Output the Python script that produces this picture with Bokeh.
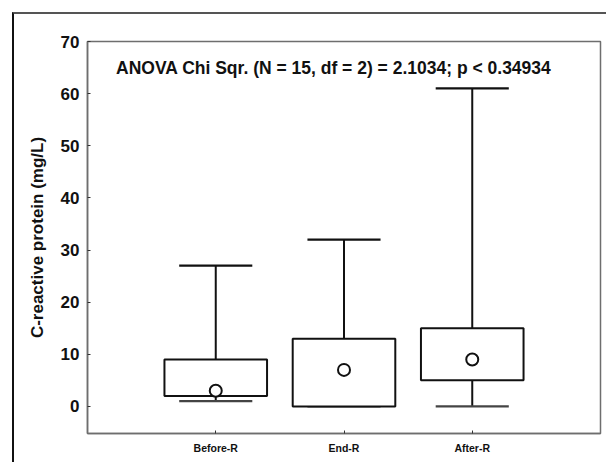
from bokeh.plotting import figure
from bokeh.models import FixedTicker, Label, Range1d
from bokeh.embed import file_html
from bokeh.resources import INLINE

categories = ["Before-R", "End-R", "After-R"]
positions = [1, 2, 3]
medians = [3, 7, 9]
q1 = [2, 0, 5]
q3 = [9, 13, 15]
whisker_low = [1, 0, 0]
whisker_high = [27, 32, 61]
y_ticks = [0, 10, 20, 30, 40, 50, 60, 70]
annotation = "ANOVA Chi Sqr. (N = 15, df = 2) = 2.1034; p < 0.34934"

FONT = "Liberation Sans"
AXIS_GRAY = "#6e6e6e"

p = figure(width=594, height=450, output_backend="svg", toolbar_location=None,
           x_range=Range1d(0, 4), y_range=Range1d(-5.2, 70),
           min_border_left=73, min_border_top=27, min_border_bottom=31, min_border_right=8)
p.margin = (12, 0, 0, 12)
p.styles = {"border-left": "2px solid #111", "border-top": "2px solid #555"}

p.xgrid.visible = False
p.ygrid.visible = False
p.outline_line_color = AXIS_GRAY
p.outline_line_width = 1.5

# axes
p.yaxis.ticker = FixedTicker(ticks=y_ticks)
p.xaxis.ticker = FixedTicker(ticks=positions)
p.xaxis.major_label_overrides = {pos: c for pos, c in zip(positions, categories)}
for ax in (p.xaxis[0], p.yaxis[0]):
    ax.axis_line_color = AXIS_GRAY
    ax.axis_line_width = 1.5
    ax.major_tick_line_color = "#333"
    ax.major_tick_in = 3
    ax.major_tick_out = 0
    ax.minor_tick_line_color = None
    ax.major_label_text_font = FONT
    ax.major_label_text_font_style = "bold"
    ax.major_label_text_color = "#111"
p.yaxis.major_label_text_font_size = "17px"
p.yaxis.major_label_standoff = 8
p.xaxis.major_label_text_font_size = "10.5px"
p.xaxis.major_label_standoff = 8
p.yaxis.axis_label = "C-reactive protein (mg/L)"
p.yaxis.axis_label_text_font = FONT
p.yaxis.axis_label_text_font_style = "bold"
p.yaxis.axis_label_text_font_size = "17px"
p.yaxis.axis_label_text_color = "#111"
p.yaxis.axis_label_standoff = 11

box_w = 0.8
cap_w = 0.57
x0 = [x - box_w / 2 for x in positions]
x1 = [x + box_w / 2 for x in positions]
c0 = [x - cap_w / 2 for x in positions]
c1 = [x + cap_w / 2 for x in positions]

# whiskers
p.segment(x0=positions, y0=q3, x1=positions, y1=whisker_high, line_color="#111", line_width=2)
p.segment(x0=positions, y0=whisker_low, x1=positions, y1=q1, line_color="#111", line_width=2)
p.segment(x0=c0, y0=whisker_high, x1=c1, y1=whisker_high, line_color="#111", line_width=2.2)
p.segment(x0=c0, y0=whisker_low, x1=c1, y1=whisker_low, line_color="#444", line_width=2.2)

# boxes
p.quad(left=x0, right=x1, bottom=q1, top=q3, fill_color="white", line_color="#111", line_width=2)

# medians
p.scatter(x=positions, y=medians, size=12, marker="circle", fill_color="white",
          line_color="#111", line_width=2)

p.add_layout(Label(x=1.92, y=65, text=annotation, text_font=FONT, text_font_style="bold",
                   text_font_size="17.5px", text_align="center", text_baseline="middle",
                   text_color="#111"))

open("out.html", "w").write(file_html(p, INLINE))
